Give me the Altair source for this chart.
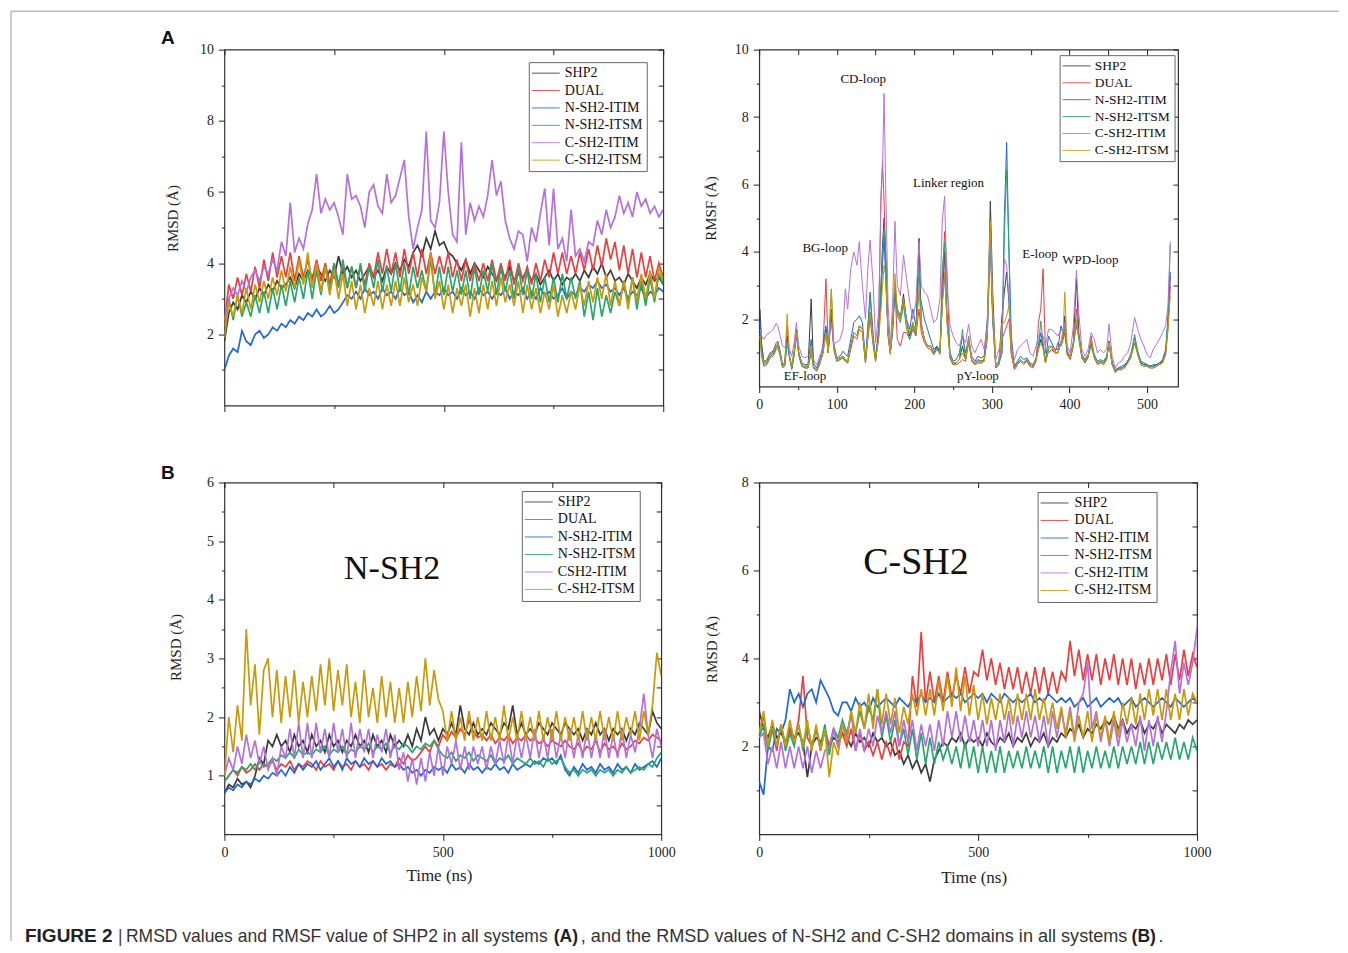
import altair as alt
import pandas as pd

FONT = "Liberation Serif"
SANS = "Liberation Sans"

NAMES_A = ["SHP2", "DUAL", "N-SH2-ITIM", "N-SH2-ITSM", "C-SH2-ITIM", "C-SH2-ITSM"]
NAMES_N = ["SHP2", "DUAL", "N-SH2-ITIM", "N-SH2-ITSM", "CSH2-ITIM", "C-SH2-ITSM"]
COLORS = ["#3a3a3a", "#f03c3c", "#1f65dc", "#25a86b", "#b46fe0", "#cc9906"]

TIME = list(range(0, 1001, 10))

# ---------------- Panel A (left): RMSD of whole SHP2 ----------------
A_SHP2 = [1.8, 2.6, 2.9, 2.7, 3.1, 2.9, 3.2, 3.0, 3.3, 3.1,
          3.4, 3.2, 3.5, 3.3, 3.4, 3.6, 3.3, 3.7, 3.5, 3.8,
          3.6, 3.9, 3.7, 3.5, 3.8, 3.6, 4.2, 3.7, 3.9, 3.6,
          3.8, 3.5, 3.7, 3.9, 3.6, 3.8, 3.5, 3.9, 3.7, 4.0,
          3.8, 4.1, 3.9, 4.3, 4.5, 4.2, 4.7, 4.4, 4.9, 4.5,
          4.6, 4.3, 4.2, 4.0, 3.8, 4.1, 3.7, 4.0, 3.8, 3.6,
          3.9, 3.7, 3.5, 3.8, 3.6, 3.9, 3.5, 3.7, 3.6, 3.8,
          3.5, 3.7, 3.4, 3.6, 3.8, 3.5, 3.7, 3.4, 3.6, 3.5,
          3.7, 3.5, 3.8, 3.6, 3.9, 3.7, 4.0, 3.6, 3.8, 3.5,
          3.6, 3.4, 3.7, 3.5, 3.3, 3.6, 3.4, 3.7, 3.5, 3.6,
          3.4]
A_DUAL = [2.3, 3.4, 3.0, 3.6, 3.1, 3.7, 3.2, 3.9, 3.3, 4.1,
          3.5, 4.3, 3.6, 4.2, 3.6, 4.3, 3.5, 4.2, 3.6, 4.1,
          3.5, 4.1, 3.5, 4.0, 3.4, 4.0, 3.4, 3.9, 3.3, 3.9,
          3.3, 3.9, 3.4, 4.0, 3.6, 4.3, 3.7, 4.4, 3.7, 4.3,
          3.6, 4.4, 3.7, 4.3, 3.6, 4.4, 3.7, 4.3, 3.7, 4.2,
          3.7, 4.3, 3.6, 4.1, 3.5, 4.1, 3.5, 4.0, 3.5, 4.0,
          3.5, 4.1, 3.5, 4.0, 3.5, 4.1, 3.4, 4.0, 3.5, 3.9,
          3.4, 4.0, 3.5, 4.1, 3.6, 4.3, 3.7, 4.3, 3.7, 4.2,
          3.7, 4.3, 3.8, 4.4, 3.8, 4.5, 3.9, 4.7, 4.1, 4.6,
          3.8, 4.5, 3.7, 4.4, 3.6, 4.3, 3.6, 4.2, 3.5, 4.0,
          3.6]
A_NITIM = [1.0, 1.4, 1.6, 1.5, 2.1, 1.8, 1.7, 2.0, 2.1, 1.9,
           2.0, 2.2, 2.1, 2.3, 2.2, 2.4, 2.3, 2.5, 2.4, 2.6,
           2.5, 2.7, 2.5, 2.6, 2.8, 2.6, 2.7, 2.9, 3.1, 3.0,
           3.2, 3.0, 3.3, 3.1, 3.2, 3.0, 3.3, 3.1, 3.2, 3.0,
           3.3, 3.1, 3.2, 2.9, 3.1, 2.9, 3.2, 3.0, 3.2, 3.1,
           3.3, 3.1, 3.2, 3.0, 3.3, 3.1, 3.2, 3.0, 3.3, 3.1,
           3.2, 3.0, 3.2, 3.1, 3.3, 3.0, 3.2, 3.1, 3.3, 3.0,
           3.2, 3.0, 3.3, 3.1, 3.2, 3.0, 3.1, 3.3, 3.0, 3.2,
           3.1, 3.3, 3.2, 3.4, 3.3, 3.5, 3.3, 3.4, 3.2, 3.3,
           3.1, 3.3, 3.0, 3.2, 3.1, 3.3, 3.0, 3.2, 3.1, 3.3,
           3.2]
A_NITSM = [2.2, 3.0, 2.4, 3.1, 2.5, 2.9, 2.5, 3.1, 2.6, 3.2,
           2.6, 3.3, 2.7, 3.4, 2.8, 3.5, 2.9, 3.6, 3.0, 3.8,
           3.0, 3.8, 3.1, 3.9, 3.2, 4.0, 3.3, 4.1, 3.3, 3.9,
           3.3, 4.0, 3.2, 3.9, 3.3, 4.1, 3.2, 3.9, 3.2, 4.0,
           3.2, 4.0, 3.1, 3.9, 3.3, 3.8, 3.2, 4.1, 3.1, 3.9,
           3.1, 3.9, 3.2, 3.8, 3.1, 3.8, 3.0, 3.9, 3.1, 3.8,
           3.2, 4.0, 3.1, 3.9, 3.2, 3.8, 3.0, 3.9, 3.1, 3.8,
           3.0, 3.7, 2.9, 3.6, 2.9, 3.6, 2.9, 3.7, 3.0, 3.6,
           3.0, 3.5, 2.5, 3.2, 2.4, 3.3, 2.5, 3.1, 2.6, 3.2,
           2.8, 3.5, 2.9, 3.6, 2.7, 3.5, 2.8, 3.6, 2.9, 3.7,
           3.4]
A_CITIM = [2.4, 3.0, 3.3, 3.1, 3.5, 3.2, 3.6, 3.8, 3.5, 3.9,
           3.7, 4.1, 3.8, 4.6, 4.2, 5.7, 4.3, 4.7, 4.4, 5.1,
           5.5, 6.5, 5.4, 5.8, 5.5, 5.7, 5.3, 4.8, 6.5, 5.8,
           5.9, 5.6, 5.0, 6.0, 6.2, 5.6, 5.4, 6.5, 5.7, 5.9,
           6.4, 6.9, 5.3, 4.4, 5.0, 5.5, 7.7, 5.2, 5.0, 5.7,
           7.7, 6.0, 4.8, 4.6, 7.4, 4.8, 5.7, 5.2, 5.6, 5.3,
           5.9, 6.9, 5.9, 6.3, 5.2, 4.7, 4.4, 4.9, 4.8, 4.05,
           5.0, 4.6, 5.4, 6.1, 4.5, 6.1, 4.4, 4.7, 4.05, 5.5,
           4.2, 4.4, 4.05, 4.6, 4.5, 5.2, 4.8, 5.5, 5.0, 5.3,
           5.9, 5.4, 5.7, 5.3, 6.0, 5.6, 5.8, 5.4, 5.6, 5.3,
           5.5]
A_CITSM = [1.9, 2.9, 2.5, 3.1, 2.6, 3.3, 2.7, 3.4, 2.9, 3.5,
           3.0, 3.6, 3.1, 3.8, 3.2, 3.9, 3.3, 4.1, 3.4, 4.3,
           3.3, 4.0, 3.2, 3.9, 3.1, 3.8, 3.0, 3.7, 2.8, 3.5,
           2.7, 3.4, 2.6, 3.3, 2.8, 3.5, 2.7, 3.4, 2.8, 3.5,
           2.8, 3.6, 2.9, 3.4, 2.8, 3.6, 3.2, 4.3, 3.0, 3.5,
           2.7, 3.4, 2.6, 3.3, 2.8, 3.4, 2.5, 3.3, 2.6, 3.4,
           2.7, 3.5, 2.8, 3.6, 2.9, 3.4, 2.8, 3.5, 2.6, 3.4,
           2.7, 3.3, 2.6, 3.2, 2.7, 3.4, 2.5, 3.1, 2.6, 3.2,
           2.7, 3.4, 2.8, 3.5, 2.9, 3.6, 3.0, 3.7, 2.8, 3.5,
           2.8, 3.5, 2.7, 3.6, 2.9, 3.7, 3.0, 3.8, 3.0, 3.9,
           3.5]

# ---------------- Panel A (right): RMSF per residue ----------------
RES = [1, 3, 6, 10, 14, 18, 22, 24, 27, 30,
       33, 36, 39, 42, 45, 48, 51, 55, 59, 63,
       67, 70, 74, 78, 82, 86, 89, 93, 96, 100,
       104, 108, 111, 114, 118, 122, 126, 129, 133, 137,
       140, 143, 147, 150, 154, 157, 159, 161, 163, 166,
       169, 172, 175, 178, 182, 186, 190, 194, 198, 202,
       206, 209, 213, 217, 221, 225, 229, 233, 236, 239,
       242, 246, 250, 254, 258, 262, 266, 270, 274, 278,
       282, 286, 290, 294, 298, 301, 305, 309, 313, 316,
       319, 322, 325, 329, 333, 337, 341, 345, 349, 353,
       357, 360, 363, 366, 369, 373, 377, 381, 385, 389,
       392, 394, 397, 401, 405, 409, 412, 416, 420, 424,
       428, 432, 436, 440, 444, 448, 451, 455, 459, 463,
       467, 471, 475, 479, 484, 488, 492, 496, 500, 504,
       508, 512, 516, 520, 524, 527, 530]
F_SHP2 = [2.3, 1.3, 0.7, 0.75, 0.95, 1.0, 1.2, 1.25, 1.0, 0.6,
          0.65, 1.5, 0.9, 0.55, 1.0, 1.6, 1.0, 0.65, 0.6, 0.6,
          2.6, 0.6, 0.5, 0.7, 1.0, 1.7, 1.0, 2.3, 1.2, 0.8,
          0.85, 0.9, 0.8, 0.75, 1.2, 1.6, 1.5, 1.8, 1.7, 0.75,
          1.5, 2.2, 1.3, 0.8, 1.5, 3.0, 4.2, 5.0, 4.0, 1.6,
          1.0, 1.8, 3.1, 2.2, 2.0, 2.75, 1.9, 1.5, 1.9, 1.6,
          4.4, 1.8, 1.4, 1.2, 1.2, 1.0, 1.2, 1.0, 2.5, 4.0,
          2.0, 0.9, 0.7, 0.7, 0.8, 1.2, 0.8, 1.4, 0.8, 0.7,
          0.8, 0.75, 0.8, 1.6, 5.5, 2.8, 0.6, 0.7, 2.1, 2.8,
          3.4, 2.5, 1.0, 0.55, 0.7, 0.8, 0.7, 0.8, 0.65, 0.6,
          0.8, 1.1, 1.4, 1.2, 0.7, 1.1, 1.2, 1.0, 1.0, 1.3,
          1.6, 2.1, 1.0, 0.85, 1.3, 3.2, 1.6, 0.9, 0.75, 0.9,
          1.3, 0.9, 0.7, 0.75, 0.7, 0.85, 1.35, 0.7, 0.45, 0.55,
          0.55, 0.6, 0.75, 0.9, 1.3, 1.0, 0.7, 0.65, 0.65, 0.6,
          0.6, 0.65, 0.7, 0.75, 1.0, 1.9, 3.3]
F_DUAL = [1.6, 1.0, 0.65, 0.7, 0.9, 0.95, 1.15, 1.2, 0.95, 0.6,
          0.7, 1.8, 0.9, 0.55, 0.95, 1.5, 0.95, 0.6, 0.55, 0.55,
          1.1, 0.55, 0.45, 0.65, 1.0, 3.2, 1.1, 2.2, 1.1, 0.75,
          0.8, 0.85, 0.75, 0.7, 1.1, 1.5, 1.4, 1.7, 1.6, 0.7,
          1.4, 2.0, 1.2, 0.75, 1.8, 5.7, 6.7, 5.5, 3.5, 1.5,
          1.0, 1.6, 2.9, 1.4, 1.2, 1.6, 1.6, 1.4, 1.7, 1.5,
          2.3, 1.6, 1.3, 1.15, 1.1, 0.95, 1.1, 1.0, 3.0, 4.6,
          3.5, 0.85, 0.65, 0.65, 0.7, 0.8, 0.75, 1.3, 0.75, 0.65,
          0.7, 0.7, 0.75, 1.4, 4.5, 2.0, 0.55, 0.65, 1.4, 1.6,
          1.8, 2.0, 0.95, 0.5, 0.65, 0.75, 0.65, 0.75, 0.6, 0.55,
          0.75, 1.9, 2.3, 3.5, 1.0, 1.0, 1.1, 1.0, 1.3, 1.2,
          1.4, 1.6, 0.95, 0.8, 1.2, 2.3, 1.5, 0.85, 0.7, 0.85,
          1.5, 0.85, 0.65, 0.7, 0.65, 0.8, 1.3, 0.65, 0.45, 0.5,
          0.5, 0.55, 0.7, 0.85, 1.3, 0.95, 0.65, 0.6, 0.6, 0.55,
          0.55, 0.6, 0.65, 0.7, 0.95, 1.7, 3.0]
F_NITIM = [2.0, 1.2, 0.75, 0.8, 1.0, 1.05, 1.3, 1.35, 1.05, 0.65,
           0.7, 1.4, 0.9, 0.6, 1.05, 1.7, 1.0, 0.7, 0.65, 0.65,
           1.4, 0.7, 0.55, 0.8, 1.2, 1.8, 1.1, 2.0, 1.3, 0.85,
           0.9, 1.05, 0.95, 0.9, 1.4, 1.9, 2.0, 2.1, 1.9, 0.8,
           1.8, 2.8, 1.5, 0.85, 1.6, 2.5, 3.6, 4.5, 3.2, 1.7,
           1.05, 1.8, 2.9, 2.3, 2.1, 2.5, 2.0, 1.7, 2.3, 1.8,
           2.8, 2.5, 2.0, 1.7, 1.4, 1.1, 1.2, 1.05, 2.5, 3.3,
           2.1, 1.0, 0.75, 0.8, 1.0, 1.5, 1.0, 1.4, 0.9, 0.75,
           0.9, 0.85, 0.9, 2.0, 4.2, 2.1, 0.65, 0.75, 1.0, 5.0,
           7.25, 4.0, 1.5, 0.6, 0.75, 0.9, 0.8, 0.85, 0.7, 0.65,
           0.85, 1.2, 1.6, 1.2, 0.75, 1.5, 1.3, 1.1, 1.1, 1.8,
           1.6, 1.7, 1.05, 0.9, 1.3, 1.8, 1.5, 0.95, 0.8, 0.95,
           1.3, 0.95, 0.75, 0.8, 0.75, 0.9, 1.3, 0.7, 0.5, 0.55,
           0.6, 0.65, 0.75, 0.95, 1.45, 1.05, 0.75, 0.7, 0.65, 0.6,
           0.65, 0.65, 0.7, 0.8, 1.1, 2.0, 3.4]
F_NITSM = [1.5, 0.9, 0.6, 0.65, 0.85, 0.9, 1.1, 1.15, 0.9, 0.55,
           0.6, 1.3, 0.85, 0.5, 0.9, 1.6, 0.9, 0.6, 0.55, 0.55,
           1.0, 0.55, 0.5, 0.7, 0.95, 1.6, 1.0, 2.9, 1.2, 0.75,
           0.8, 0.85, 0.75, 0.7, 1.2, 1.6, 1.5, 1.8, 1.7, 0.7,
           1.6, 2.7, 1.3, 0.75, 1.5, 3.0, 4.0, 4.7, 4.0, 1.6,
           0.95, 1.7, 3.0, 2.1, 1.9, 2.4, 1.7, 1.4, 1.8, 1.5,
           3.5, 1.9, 1.4, 1.2, 1.2, 0.95, 1.15, 0.95, 3.5, 4.3,
           2.2, 0.85, 0.65, 0.7, 0.8, 1.7, 0.8, 1.5, 0.8, 0.65,
           0.75, 0.7, 0.75, 1.5, 4.4, 2.0, 0.55, 0.65, 1.0, 4.5,
           6.45, 4.0, 1.1, 0.55, 0.7, 0.8, 0.7, 0.8, 0.65, 0.6,
           0.8, 1.2, 1.95, 1.3, 0.7, 1.2, 1.2, 1.0, 1.0, 1.3,
           1.5, 1.9, 1.0, 0.85, 1.2, 1.9, 1.4, 0.85, 0.7, 0.9,
           1.2, 0.85, 0.7, 0.75, 0.7, 0.85, 1.35, 0.65, 0.45, 0.5,
           0.55, 0.6, 0.7, 0.9, 1.55, 1.0, 0.7, 0.65, 0.6, 0.6,
           0.6, 0.6, 0.65, 0.75, 1.0, 2.0, 4.2]
F_CITIM = [1.7, 1.5, 1.4, 1.55, 1.6, 1.7, 1.88, 1.8, 1.5, 1.2,
           1.15, 1.3, 1.1, 0.9, 1.3, 1.9, 1.2, 0.9, 0.85, 0.9,
           1.0, 0.8, 0.65, 0.9, 1.1, 1.5, 1.3, 1.9, 1.3, 1.3,
           1.4, 1.7, 2.9, 2.3, 3.5, 4.0, 3.6, 4.3, 3.0, 2.0,
           3.5, 4.35, 3.0, 1.3, 2.2, 5.5, 6.5, 8.7, 6.0, 2.5,
           1.2, 2.5, 4.9, 3.0, 2.7, 3.9, 3.2, 2.5, 2.0, 2.5,
           4.3, 3.0, 2.8, 2.7, 2.3, 1.9, 2.0, 2.6, 4.9, 5.65,
           3.0, 1.8, 1.5, 1.3, 1.2, 1.5, 1.3, 1.85, 1.2, 1.0,
           1.2, 1.4, 1.1, 1.8, 4.7, 2.2, 0.8, 1.1, 1.4, 3.8,
           3.6, 2.6, 1.2, 0.8, 1.1, 1.2, 1.3, 1.4, 1.0, 0.9,
           1.2, 1.5, 1.6, 1.5, 1.2, 1.7, 1.7, 1.6, 1.5, 1.7,
           1.6, 1.9, 1.2, 1.0, 1.8, 3.45, 2.2, 1.1, 0.9, 1.1,
           1.6, 1.4, 1.0, 1.1, 1.0, 1.1, 1.85, 0.9, 0.55, 0.7,
           0.75, 0.9, 1.0, 1.3, 2.05, 1.7, 1.4, 1.2, 0.95, 0.85,
           1.1, 1.25, 1.4, 1.6, 1.8, 2.4, 4.3]
F_CITSM = [1.5, 1.0, 0.7, 0.75, 0.95, 1.0, 1.2, 1.3, 1.0, 0.6,
           0.7, 2.15, 0.95, 0.6, 1.0, 1.6, 1.0, 0.65, 0.6, 0.6,
           1.2, 0.6, 0.5, 0.7, 1.0, 1.6, 1.0, 2.85, 1.2, 0.8,
           0.85, 0.9, 0.8, 0.75, 1.2, 1.6, 1.5, 1.8, 1.7, 0.75,
           1.5, 2.2, 1.3, 0.8, 1.4, 2.3, 3.0, 3.6, 3.3, 1.6,
           1.0, 1.9, 3.35, 2.3, 2.0, 2.6, 1.9, 1.6, 1.9, 1.6,
           2.9, 1.8, 1.4, 1.2, 1.2, 1.0, 1.1, 1.0, 2.4, 3.4,
           1.9, 0.9, 0.7, 0.7, 0.8, 1.0, 0.8, 1.4, 0.8, 0.7,
           0.75, 0.7, 0.75, 1.6, 4.9, 2.3, 0.6, 0.7, 1.9, 1.9,
           2.1, 2.4, 1.0, 0.55, 0.7, 0.8, 0.7, 0.8, 0.65, 0.6,
           0.8, 1.1, 1.3, 1.1, 0.7, 1.1, 1.2, 1.0, 1.0, 1.3,
           1.7, 2.8, 1.1, 0.85, 1.3, 2.0, 1.5, 0.9, 0.75, 0.9,
           1.4, 0.9, 0.7, 0.7, 0.65, 0.8, 1.3, 0.65, 0.4, 0.5,
           0.5, 0.55, 0.7, 0.85, 1.3, 0.95, 0.65, 0.6, 0.6, 0.55,
           0.55, 0.6, 0.65, 0.7, 0.95, 1.7, 2.7]

# ---------------- Panel B (left): RMSD of N-SH2 ----------------
N_SHP2 = [0.7, 0.85, 0.8, 0.95, 0.85, 0.9, 0.8, 1.0, 1.3, 1.2,
          1.6, 1.5, 1.7, 1.5, 1.6, 1.4, 1.7, 1.5, 1.6, 1.4,
          1.7, 1.5, 1.6, 1.4, 1.7, 1.5, 1.6, 1.4, 1.6, 1.5,
          1.7, 1.5, 1.6, 1.4, 1.7, 1.5, 1.6, 1.4, 1.7, 1.5,
          1.6, 1.5, 1.7, 1.5, 1.8, 1.6, 2.0, 1.7, 1.8, 1.6,
          1.8, 1.7, 1.9, 1.7, 2.2, 1.8, 1.7, 1.9, 1.7, 1.8,
          1.7, 1.9, 1.8, 1.7, 1.9, 1.8, 2.2, 1.7, 1.9, 1.7,
          1.8, 1.7, 1.9, 1.8, 1.7, 1.9, 1.8, 1.7, 1.9, 1.8,
          1.7, 1.8, 1.6, 1.8, 1.7, 1.9, 1.7, 1.8, 1.6, 1.8,
          1.7, 1.8, 1.6, 1.8, 1.7, 1.9, 1.8, 1.7, 2.1, 1.9,
          1.8]
N_DUAL = [0.9, 1.0, 1.1, 1.0, 1.15, 1.05, 1.1, 1.2, 1.1, 1.2,
          1.15, 1.25, 1.1, 1.2, 1.15, 1.25, 1.1, 1.2, 1.15, 1.25,
          1.2, 1.1, 1.25, 1.15, 1.2, 1.1, 1.25, 1.15, 1.2, 1.1,
          1.25, 1.15, 1.2, 1.1, 1.25, 1.15, 1.2, 1.1, 1.2, 1.15,
          1.3, 1.2, 1.35, 1.25, 1.3, 1.4, 1.5, 1.4, 1.6, 1.5,
          1.7, 1.6, 1.75, 1.65, 1.8, 1.7, 1.95, 1.75, 1.65, 1.7,
          1.6, 1.7, 1.55, 1.65, 1.6, 1.7, 1.55, 1.65, 1.6, 1.7,
          1.6, 1.65, 1.55, 1.6, 1.5, 1.6, 1.55, 1.5, 1.6, 1.5,
          1.45, 1.55, 1.4, 1.5, 1.45, 1.6, 1.4, 1.55, 1.45, 1.5,
          1.4, 1.55, 1.45, 1.5, 1.6, 1.55, 1.65, 1.6, 1.7, 1.65,
          1.6]
N_NITIM = [0.7, 0.8, 0.75, 0.85, 0.8, 0.9, 0.85, 0.95, 0.9, 1.0,
           0.95, 1.05, 1.0, 1.1, 1.0, 1.15, 1.05, 1.2, 1.1, 1.2,
           1.15, 1.25, 1.1, 1.2, 1.3, 1.15, 1.25, 1.1, 1.3, 1.2,
           1.25, 1.15, 1.3, 1.2, 1.25, 1.15, 1.3, 1.2, 1.25, 1.15,
           1.2, 1.1, 1.15, 1.05, 1.1, 1.0, 1.1, 1.05, 1.15, 1.1,
           1.15, 1.05, 1.2, 1.1, 1.15, 1.05, 1.2, 1.1, 1.15, 1.05,
           1.15, 1.1, 1.2, 1.1, 1.15, 1.05, 1.2, 1.1, 1.15, 1.2,
           1.15, 1.25, 1.2, 1.3, 1.25, 1.3, 1.2, 1.35, 1.1, 1.0,
           1.15, 1.05, 1.2, 1.1, 1.15, 1.05, 1.2, 1.1, 1.15, 1.05,
           1.2, 1.1, 1.15, 1.05, 1.2, 1.1, 1.15, 1.2, 1.25, 1.15,
           1.3]
N_NITSM = [0.9, 1.0, 1.1, 1.05, 1.15, 1.1, 1.2, 1.1, 1.25, 1.15,
           1.2, 1.3, 1.25, 1.35, 1.3, 1.4, 1.3, 1.45, 1.35, 1.4,
           1.35, 1.45, 1.4, 1.5, 1.35, 1.45, 1.4, 1.5, 1.35, 1.45,
           1.4, 1.5, 1.45, 1.55, 1.4, 1.5, 1.45, 1.55, 1.4, 1.5,
           1.45, 1.55, 1.5, 1.4, 1.5, 1.45, 1.55, 1.5, 1.6, 1.45,
           1.35, 1.3, 1.4, 1.25, 1.35, 1.3, 1.4, 1.25, 1.35, 1.3,
           1.25, 1.35, 1.2, 1.3, 1.25, 1.35, 1.2, 1.3, 1.25, 1.2,
           1.3, 1.2, 1.25, 1.15, 1.3, 1.2, 1.25, 1.3, 1.15, 1.05,
           1.1, 1.0, 1.1, 1.05, 1.1, 1.0, 1.1, 1.05, 1.1, 1.0,
           1.1, 1.05, 1.15, 1.05, 1.1, 1.15, 1.1, 1.2, 1.15, 1.3,
           1.4]
N_CITIM = [1.0, 1.3, 1.1, 1.5, 1.2, 1.7, 1.3, 1.6, 1.2, 1.5,
           1.1, 1.3, 1.0, 1.5, 1.3, 1.8, 1.3, 1.9, 1.3, 1.9,
           1.3, 1.9, 1.4, 1.8, 1.3, 1.9, 1.4, 1.8, 1.3, 1.9,
           1.3, 1.8, 1.4, 1.8, 1.3, 1.7, 1.4, 1.8, 1.3, 1.7,
           1.1, 1.4, 0.9, 1.3, 0.85, 1.3, 0.9, 1.4, 1.0, 1.5,
           1.0, 1.5, 1.2, 1.6, 1.1, 1.5, 1.1, 1.5, 1.2, 1.5,
           1.1, 1.5, 1.2, 1.6, 1.2, 1.7, 1.2, 1.7, 1.3, 1.7,
           1.3, 1.8, 1.3, 1.7, 1.3, 1.8, 1.3, 1.7, 1.3, 1.8,
           1.3, 1.7, 1.3, 1.8, 1.3, 1.7, 1.3, 1.8, 1.3, 1.7,
           1.3, 1.8, 1.3, 1.7, 1.4, 1.8, 2.4, 1.7, 1.3, 1.8,
           1.5]
N_CITSM = [1.0, 2.0, 1.4, 2.2, 1.6, 3.5, 2.2, 2.9, 1.7, 2.8,
           3.0, 2.0, 2.8, 1.9, 2.7, 2.0, 2.8, 1.9, 2.6, 2.0,
           2.7, 2.1, 2.9, 2.2, 3.0, 2.1, 2.8, 2.2, 2.9, 2.0,
           2.6, 1.9, 2.8, 2.0, 2.5, 1.9, 2.7, 2.0, 2.6, 1.9,
           2.5, 1.9, 2.6, 2.0, 2.7, 2.1, 3.0, 2.2, 2.8, 2.3,
           2.1, 1.6, 2.1, 1.6, 2.0, 1.6, 2.1, 1.6, 2.0, 1.6,
           2.1, 1.6, 2.0, 1.6, 2.2, 1.6, 2.0, 1.6, 2.1, 1.6,
           2.0, 1.6, 2.1, 1.6, 2.0, 1.6, 2.1, 1.6, 2.0, 1.6,
           2.0, 1.6, 2.1, 1.6, 2.0, 1.6, 2.1, 1.6, 2.0, 1.6,
           2.1, 1.6, 2.0, 1.7, 2.1, 1.6, 2.1, 1.7, 2.2, 3.1,
           2.7]

# ---------------- Panel B (right): RMSD of C-SH2 ----------------
C_SHP2 = [2.8, 2.4, 2.2, 2.5, 2.2, 2.3, 2.1, 2.4, 2.2, 2.3,
          2.1, 1.3, 2.0, 2.2, 2.1, 2.3, 2.0, 2.2, 2.1, 2.3,
          2.2, 2.0, 2.3, 2.1, 2.2, 2.0, 2.3, 2.1, 2.2, 2.0,
          2.1, 1.8, 1.9, 1.6, 1.8, 1.5, 1.7, 1.4, 1.6, 1.2,
          1.7, 1.9, 2.1, 2.0, 2.2, 2.1, 2.3, 2.0, 2.2, 2.1,
          2.2, 2.0, 2.3, 2.1, 2.0, 2.2, 2.1, 2.3, 2.0, 2.2,
          2.1, 2.3, 2.0, 2.2, 2.1, 2.3, 2.0, 2.2, 2.1, 2.3,
          2.2, 2.4, 2.3, 2.5, 2.2, 2.4, 2.3, 2.5, 2.4, 2.6,
          2.5, 2.7, 2.4, 2.6, 2.3, 2.5, 2.4, 2.6, 2.3, 2.5,
          2.4, 2.6, 2.3, 2.5, 2.4, 2.3, 2.5, 2.4, 2.6, 2.5,
          2.6]
C_DUAL = [2.3, 2.7, 2.0, 2.4, 1.9, 2.5, 2.0, 2.4, 2.1, 2.6,
          3.6, 2.2, 2.0, 2.4, 1.9, 2.4, 2.0, 2.4, 2.0, 2.3,
          2.0, 2.4, 1.9, 2.3, 1.9, 2.1, 1.8, 2.1, 1.7, 2.1,
          1.8, 2.2, 1.7, 2.1, 2.0, 3.6, 2.9, 4.6, 3.0, 3.7,
          3.0, 3.6, 3.0, 3.7, 3.1, 3.6, 3.2, 3.8, 3.2, 3.7,
          3.6, 4.2, 3.5, 4.0, 3.4, 3.9, 3.3, 3.8, 3.3, 3.8,
          3.2, 3.7, 3.2, 3.8, 3.2, 3.8, 3.2, 3.7, 3.2, 3.7,
          3.5, 4.4, 3.6, 4.2, 3.5, 4.1, 3.5, 4.1, 3.4, 4.0,
          3.5, 4.1, 3.4, 4.0, 3.4, 4.0, 3.3, 3.9, 3.4, 4.0,
          3.4, 4.0, 3.5, 4.1, 3.4, 4.1, 3.5, 4.2, 3.6, 4.1,
          3.8]
C_NITIM = [1.2, 0.9, 2.0, 1.9, 2.4, 2.3, 2.6, 3.3, 3.0, 3.2,
           2.9, 3.2, 3.3, 3.0, 3.5, 3.3, 3.1, 2.8, 2.7, 3.0,
           3.0, 2.8, 3.1, 2.9, 3.0, 2.8, 3.1, 2.9, 3.0, 3.1,
           3.0, 2.9, 3.1, 3.0, 2.9, 3.1, 3.0, 3.2, 3.0, 3.1,
           3.0, 3.2, 3.0, 3.1, 3.2, 3.1, 3.2, 3.0, 3.1, 3.2,
           3.1, 3.2, 3.0, 3.2, 3.1, 3.0, 3.2, 3.1, 3.0, 3.1,
           3.0, 3.1, 3.2, 3.0, 3.1, 3.0, 3.2, 3.1, 3.0, 3.1,
           3.0, 3.1, 2.9, 3.0, 3.1, 2.9, 3.0, 3.1, 2.9, 3.0,
           3.1, 3.0, 3.1, 2.9, 3.0, 3.1, 2.9, 3.0, 3.1, 3.0,
           2.9, 3.0, 3.1, 3.0, 2.9, 3.1, 3.0, 2.9, 3.0, 3.1,
           3.0]
C_NITSM = [2.2, 2.5, 1.9, 2.4, 2.0, 2.5, 1.9, 2.3, 2.0, 2.5,
           1.9, 2.5, 2.0, 2.4, 2.0, 2.5, 1.8, 2.4, 2.2, 2.6,
           2.3, 2.7, 2.3, 2.8, 2.4, 2.9, 2.6, 3.3, 2.2, 2.7,
           2.1, 2.6, 2.0, 2.4, 1.8, 2.4, 1.7, 2.3, 1.6, 2.2,
           1.6, 2.1, 1.7, 2.0, 1.6, 2.0, 1.5, 2.1, 1.5, 2.0,
           1.4, 2.0, 1.4, 1.9, 1.4, 2.0, 1.4, 1.9, 1.5, 1.9,
           1.5, 2.0, 1.5, 1.9, 1.5, 2.0, 1.4, 2.0, 1.4, 1.9,
           1.5, 2.0, 1.4, 2.0, 1.4, 1.9, 1.5, 2.0, 1.5, 1.9,
           1.5, 2.0, 1.5, 2.0, 1.6, 2.0, 1.6, 2.1, 1.6, 2.1,
           1.6, 2.1, 1.7, 2.1, 1.7, 2.2, 1.7, 2.1, 1.7, 2.2,
           1.9]
C_CITIM = [2.2, 2.3, 1.6, 2.0, 1.5, 2.1, 1.5, 2.0, 1.5, 2.0,
           1.5, 2.0, 1.4, 1.9, 1.5, 1.9, 2.0, 2.4, 2.0, 2.5,
           2.2, 2.8, 1.9, 2.4, 1.9, 2.4, 2.0, 2.7, 2.3, 2.8,
           2.3, 2.8, 2.0, 2.6, 2.1, 2.6, 1.9, 2.5, 2.0, 2.5,
           1.9, 2.6, 2.0, 2.8, 2.2, 2.8, 2.1, 2.7, 2.1, 2.6,
           2.0, 2.6, 2.0, 2.6, 1.9, 2.6, 2.1, 2.8, 2.0, 2.7,
           2.2, 2.8, 2.2, 2.7, 2.1, 2.7, 2.0, 2.8, 2.2, 2.8,
           2.3, 2.9, 2.2, 3.0, 3.2, 3.9, 2.4, 2.8, 2.1, 2.6,
           2.0, 2.6, 2.0, 2.6, 2.1, 2.5, 2.0, 2.7, 1.9, 2.6,
           2.0, 2.7, 2.1, 2.8, 3.7, 4.4, 3.2, 3.9, 3.4, 3.9,
           4.7]
C_CITSM = [2.3, 2.8, 2.0, 2.6, 2.0, 2.5, 2.0, 2.6, 2.1, 2.5,
           2.0, 2.6, 1.9, 2.5, 1.9, 2.4, 1.3, 2.1, 1.8, 2.5,
           2.1, 2.8, 2.3, 3.0, 2.4, 3.2, 2.4, 3.3, 2.5, 3.2,
           2.5, 3.1, 2.3, 2.9, 2.5, 3.2, 2.7, 3.3, 2.7, 3.3,
           2.7, 3.5, 2.8, 3.6, 2.9, 3.8, 2.8, 3.6, 2.7, 3.4,
           2.6, 3.2, 2.5, 3.1, 2.6, 3.2, 2.6, 3.1, 2.5, 3.2,
           2.6, 3.2, 2.6, 3.3, 2.6, 3.1, 2.5, 3.0, 2.4, 2.9,
           2.2, 2.8, 2.1, 2.7, 2.2, 2.8, 2.1, 2.7, 2.2, 2.7,
           2.1, 2.8, 2.2, 3.0, 2.5, 3.1, 2.5, 3.2, 2.6, 3.3,
           2.7, 3.3, 2.6, 3.3, 2.6, 3.2, 2.6, 3.3, 2.7, 3.2,
           3.0]

# annotations of the RMSF panel (label, residue, value)
LOOP_LABELS = ["CD-loop", "Linker region", "BG-loop", "E-loop", "WPD-loop", "EF-loop", "pY-loop"]
LOOP_X = [134, 244, 85, 362, 427, 59, 282]
LOOP_Y = [9.13, 6.04, 4.12, 3.94, 3.76, 0.30, 0.30]


def long_df(x, names, series):
    recs = []
    for n, vals in zip(names, series):
        for xi, v in zip(x, vals):
            recs.append({"x": xi, "v": v, "s": n})
    return pd.DataFrame(recs)


def tick_cond(major, big=6, small=3):
    return {"condition": {"test": f"datum.value % {major} === 0", "value": big}, "value": small}


DUMMY = pd.DataFrame({"a": [0]})


def px_text(text, x, y, size, font=FONT, weight="normal", align="left", baseline="alphabetic", color="#222"):
    return alt.Chart(DUMMY).mark_text(
        font=font, fontSize=size, fontWeight=weight, align=align, baseline=baseline, color=color
    ).encode(x=alt.value(x), y=alt.value(y), text=alt.value(text))


def px_rule(x1, x2, y1, y2, color="#9a9a9a", width=1.0):
    return alt.Chart(DUMMY).mark_rule(color=color, strokeWidth=width).encode(
        x=alt.value(x1), x2=alt.value(x2), y=alt.value(y1), y2=alt.value(y2))


def panel(df, names, w, h, xdom, ydom, xticks, xmajor, yticks, ymajor, xlabels,
          xtitle, xtitle_pos, ytitle, ytitle_pos, legend_pos, legend_font, legend_row,
          legend_so, legend_lo, line_w=1.7, extras=(), data_texts=()):
    xs = alt.Scale(domain=xdom, nice=False, zero=False)
    ys = alt.Scale(domain=ydom, nice=False, zero=False)
    legend = alt.Legend(
        title=None, orient="none", legendX=legend_pos[0], legendY=legend_pos[1],
        symbolType="M-4,0H4", symbolSize=49, symbolStrokeWidth=1.0, symbolOpacity=0.85,
        symbolOffset=legend_so, labelOffset=legend_lo, labelFont=FONT,
        labelFontSize=legend_font, labelColor="#111", rowPadding=legend_row,
        padding=4, strokeColor="#666", fillColor="white", labelLimit=0)
    color = alt.Color("s:N", scale=alt.Scale(domain=names, range=COLORS), legend=legend)

    xkw = dict(orient="bottom", values=xticks, domain=False, grid=False,
               tickSize=tick_cond(xmajor), tickColor="#222", tickWidth=1,
               labelPadding=5, labelFontSize=14, labelFont=FONT, labelColor="#222",
               labelFlush=False, labelOverlap=False,
               labelExpr=f"datum.value % {xmajor} === 0 ? '' + datum.value : ''")
    if not xlabels:
        xkw["labels"] = False
    if xtitle:
        xkw.update(title=xtitle, titleX=xtitle_pos[0], titleY=xtitle_pos[1], titleFont=FONT,
                   titleFontSize=17, titleFontWeight="normal", titleColor="#222",
                   titleBaseline="middle", titleAlign="center", titleAngle=0)
    else:
        xkw["title"] = None
    xaxis = alt.Axis(**xkw)
    yaxis = alt.Axis(orient="left", values=yticks, domain=False, grid=False,
                     tickSize=tick_cond(ymajor), tickColor="#222", tickWidth=1,
                     labelPadding=5, labelFontSize=14, labelFont=FONT, labelColor="#222",
                     labelFlush=False, labelOverlap=False,
                     labelExpr=f"datum.value % {ymajor} === 0 ? '' + datum.value : ''",
                     title=ytitle, titleX=ytitle_pos[0], titleY=ytitle_pos[1], titleFont=FONT,
                     titleFontSize=15, titleFontWeight="normal", titleColor="#222",
                     titleBaseline="middle", titleAlign="center", titleAngle=270)
    top_axis = alt.Axis(orient="top", values=xticks, labels=False, domain=False, grid=False,
                        tickSize=5, offset=-5, tickColor="#222", title=None)
    right_axis = alt.Axis(orient="right", values=yticks, labels=False, domain=False, grid=False,
                          tickSize=5, offset=-5, tickColor="#222", title=None)

    layers = []
    for i, n in enumerate(names):
        layers.append(
            alt.Chart(df).transform_filter(alt.datum.s == n).mark_line(strokeWidth=line_w, clip=True).encode(
                x=alt.X("x:Q", scale=xs, axis=xaxis if i == 0 else None),
                y=alt.Y("v:Q", scale=ys, axis=yaxis if i == 0 else None),
                color=color,
            )
        )
    layers.append(
        alt.Chart(pd.DataFrame({"x": [xdom[0]], "v": [ydom[0]]})).mark_point(opacity=0).encode(
            x=alt.X("x:Q", scale=xs, axis=top_axis),
            y=alt.Y("v:Q", scale=ys, axis=right_axis),
        )
    )
    for tdf, size in data_texts:
        layers.append(
            alt.Chart(tdf).mark_text(font=FONT, fontSize=size, color="#111", align="center",
                                     baseline="middle").encode(
                x=alt.X("x:Q", scale=xs, axis=None),
                y=alt.Y("v:Q", scale=ys, axis=None),
                text="t:N",
            )
        )
    layers.extend(extras)
    return alt.layer(*layers).resolve_axis(x="independent", y="independent").properties(
        width=w, height=h, view=alt.ViewBackground(stroke="#333", strokeWidth=1.2, fill="white"))


dfA = long_df(TIME, NAMES_A, [A_SHP2, A_DUAL, A_NITIM, A_NITSM, A_CITIM, A_CITSM])
dfF = long_df(RES, NAMES_A, [F_SHP2, F_DUAL, F_NITIM, F_NITSM, F_CITIM, F_CITSM])
dfN = long_df(TIME, NAMES_N, [N_SHP2, N_DUAL, N_NITIM, N_NITSM, N_CITIM, N_CITSM])
dfC = long_df(TIME, NAMES_A, [C_SHP2, C_DUAL, C_NITIM, C_NITSM, C_CITIM, C_CITSM])

loops = pd.DataFrame({"t": LOOP_LABELS, "x": LOOP_X, "v": LOOP_Y})
nlab = pd.DataFrame({"t": ["N-SH2"], "x": [384], "v": [4.52]})
clab = pd.DataFrame({"t": ["C-SH2"], "x": [358], "v": [6.16]})

# decorations (figure frame, panel letters, caption) in pixel offsets from panel origins
extras_A = [
    px_rule(-213.5, 1114.5, -38.5, -38.5),
    px_rule(-213.5, -213.5, -38.5, 891.5),
    px_text("A", -56.5, -11.5, 19, font=SANS, weight="bold", align="center", baseline="middle", color="#111"),
]
CAP_Y = 459.5
extras_B = [
    px_text("B", -56.5, -9.5, 19, font=SANS, weight="bold", align="center", baseline="middle", color="#111"),
    px_text("FIGURE 2", -199.5, CAP_Y, 19, font=SANS, weight="bold", color="#222"),
    px_text("|", -106.5, CAP_Y, 17.5, font=SANS, color="#444"),
    px_text("RMSD values and RMSF value of SHP2 in all systems", -98.5, CAP_Y, 17.5, font=SANS, color="#333"),
    px_text("(A)", 329.5, CAP_Y, 17.5, font=SANS, weight="bold", color="#222"),
    px_text(", and the RMSD values of N-SH2 and C-SH2 domains in all systems", 356.5, CAP_Y, 18.1, font=SANS, color="#333"),
    px_text("(B)", 907.5, CAP_Y, 17.5, font=SANS, weight="bold", color="#222"),
    px_text(".", 934.5, CAP_Y, 17.5, font=SANS, color="#333"),
]

pA1 = panel(dfA, NAMES_A, 439, 356, [0, 1000], [0, 10], [0, 250, 500, 750, 1000], 500,
            list(range(1, 11)), 2, False, None, None, "RMSD (Å)", (-51.5, 168.5),
            (304.5, 12.5), 14, 3.4, 6, 12, extras=extras_A)
pA2 = panel(dfF, NAMES_A, 419, 337, [0, 540], [0, 10], list(range(0, 501, 50)), 100,
            list(range(1, 11)), 2, True, None, None, "RMSF (Å)", (-48.5, 158.5),
            (300.5, 5.5), 13.5, 1.9, 6.25, 11.5, line_w=1.0, data_texts=[(loops, 13)])
pB1 = panel(dfN, NAMES_N, 437, 352, [0, 1000], [0, 6], [0, 250, 500, 750, 1000], 500,
            [x / 2 for x in range(1, 13)], 1, True, "Time (ns)", (214.5, 41.5), "RMSD (Å)",
            (-48.5, 164.5), (297.5, 8.5), 14, 3.5, 6, 12, extras=extras_B, data_texts=[(nlab, 34)])
pB2 = panel(dfC, NAMES_A, 438, 352, [0, 1000], [0, 8], [0, 250, 500, 750, 1000], 500,
            list(range(1, 9)), 2, True, "Time (ns)", (214.5, 43.5), "RMSD (Å)",
            (-47.5, 166.5), (278.5, 9.5), 14, 3.5, 6, 13, data_texts=[(clab, 38)])

chart = alt.concat(pA1, pA2, pB1, pB2, columns=2, spacing={"row": 77, "column": 96},
                   bounds="flush").resolve_scale(color="independent").properties(
    padding={"left": 1.5, "top": 1.5, "right": 0, "bottom": 0}, background="white"
).configure_view(stroke="#333", strokeWidth=1.2)

chart.save("out.html", embed_options={"renderer": "svg", "actions": False})
